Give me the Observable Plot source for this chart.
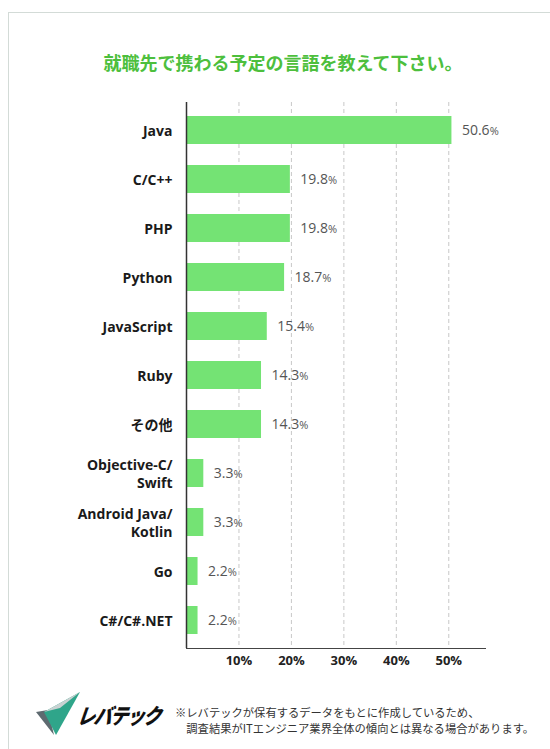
<!DOCTYPE html>
<html><head><meta charset="utf-8">
<script src="https://cdn.jsdelivr.net/npm/d3@7"></script>
<script src="https://cdn.jsdelivr.net/npm/@observablehq/plot@0.6"></script>
<style>
body{margin:0;width:550px;height:749px;overflow:hidden;background:#fff;font-family:"Open Sans","Noto Sans CJK JP",sans-serif;position:relative;}
#frame{position:absolute;left:8px;top:12px;width:600px;height:800px;border-top:1px solid #d3dbd7;border-left:1px solid #d3dbd7;}
#title{position:absolute;top:49px;left:0;width:566px;text-align:center;color:#4dbf3d;font-size:18px;font-weight:bold;font-family:"Noto Sans CJK JP",sans-serif;}
#chart{position:absolute;left:0;top:0;}
#logo{position:absolute;left:34px;top:690px;width:50px;height:48px;}
#logotext{position:absolute;left:80px;top:699px;font-family:"Noto Sans CJK JP",sans-serif;font-weight:900;font-style:italic;font-size:18px;color:#111;letter-spacing:-1.5px;transform-origin:left top;transform:skewX(-8deg) scaleY(1.2);}
#note{position:absolute;left:175px;top:704px;font-family:"Noto Sans CJK JP",sans-serif;font-size:11.3px;line-height:16px;color:#333;white-space:pre;}
</style></head>
<body>
<div id="frame"></div>
<div id="title"></div>
<div id="chart"></div>
<svg id="logo" viewBox="0 0 50 48">
  <polygon points="2,22 14,20 20,45" fill="#5e6a70"/>
  <polygon points="10,22 46,2 22,45" fill="#2fa58a"/>
  <polygon points="10,22 46,2 26,18" fill="#c9d2d2"/>
</svg>
<div id="logotext">レバテック</div>
<div id="note"></div>
<script>
const titleText = "就職先で携わる予定の言語を教えて下さい。";
const noteText = "※レバテックが保有するデータをもとに作成しているため、\n　調査結果がITエンジニア業界全体の傾向とは異なる場合があります。";
const languages = ["Java","C/C++","PHP","Python","JavaScript","Ruby","その他","Objective-C/\nSwift","Android Java/\nKotlin","Go","C#/C#.NET"];
const shares = [50.6,19.8,19.8,18.7,15.4,14.3,14.3,3.3,3.3,2.2,2.2];
const xTicks = [10,20,30,40,50];

document.getElementById("title").textContent = titleText;
document.getElementById("note").textContent = noteText;

const data = languages.map((l,i)=>({language:l, share:shares[i]}));

const pctRender = (index, scales, values, dimensions, context, next) => {
  const g = next(index, scales, values, dimensions, context);
  d3.select(g).selectAll("text").each(function(){
    const t = this.textContent;
    if (t.endsWith("%")) {
      this.textContent = t.slice(0,-1);
      const ts = document.createElementNS("http://www.w3.org/2000/svg","tspan");
      ts.setAttribute("font-size","11");
      ts.textContent = "%";
      this.appendChild(ts);
    }
  });
  return g;
};

const chart = Plot.plot({
  width: 550,
  height: 680,
  marginLeft: 186,
  marginRight: 65,
  marginTop: 102,
  marginBottom: 32,
  style: {fontFamily: '"Open Sans","Noto Sans CJK JP",sans-serif', background: "transparent"},
  x: {domain: [0, 57], axis: null},
  y: {domain: languages, paddingInner: 0.43, paddingOuter: 0.215, axis: null},
  marks: [
    Plot.gridX(xTicks, {stroke: "#c8c8c8", strokeOpacity: 1, strokeDasharray: "4,3"}),
    Plot.barX(data, {x: "share", y: "language", fill: "#74e374"}),
    Plot.ruleX([0], {stroke: "#333", strokeWidth: 1.5}),
    Plot.frame({anchor: "bottom", stroke: "#444"}),
    Plot.axisX(xTicks, {tickSize: 0, tickPadding: 7, tickFormat: d => d + "%", fontWeight: "bold", fontSize: 13, fill: "#222", label: null}),
    Plot.text(data, {y: "language", text: "language", frameAnchor: "left", textAnchor: "end", dx: -14, fontWeight: "bold", fontSize: 14, fill: "#1a1a1a", lineHeight: 1.25}),
    Plot.text(data, {x: "share", y: "language", text: d => d.share.toFixed(1) + "%", textAnchor: "start", dx: 10, fill: "#555", fontSize: 14, render: pctRender})
  ]
});
document.getElementById("chart").appendChild(chart);
</script>
</body></html>
